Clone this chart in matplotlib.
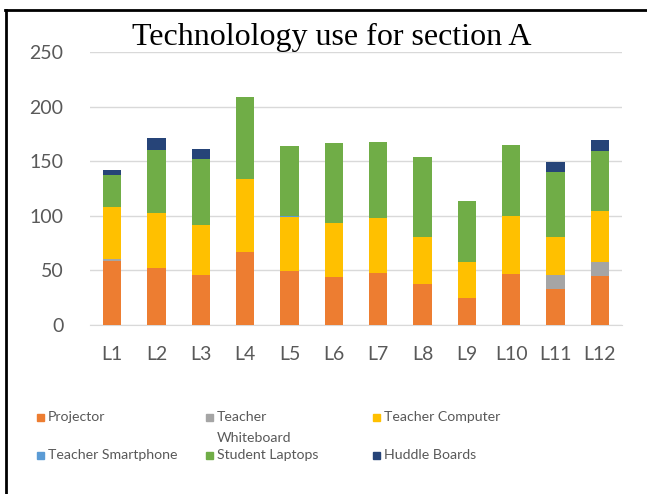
import numpy as np
import matplotlib
matplotlib.use("Agg")
import matplotlib.pyplot as plt
from matplotlib.patches import Rectangle
from matplotlib.lines import Line2D

labs = ["L1", "L2", "L3", "L4", "L5", "L6", "L7", "L8", "L9", "L10", "L11", "L12"]
projector = [59, 52, 46, 67, 49, 44, 48, 38, 25, 47, 33, 45]
whiteboard = [1, 0, 0, 0, 0, 0, 0, 0, 0, 0, 13, 13]
teacher_pc = [48, 51, 46, 67, 50, 49, 50, 43, 33, 53, 35, 46]
smartphone = [0, 0, 0, 0, 1, 0, 0, 0, 0, 0, 0, 0]
laptops = [29, 57, 60, 75, 64, 74, 70, 73, 56, 65, 59, 55]
huddle = [5, 11, 9, 0, 0, 0, 0, 0, 0, 0, 9, 10]

names = ["Projector", "Teacher\nWhiteboard", "Teacher Computer",
         "Teacher Smartphone", "Student Laptops", "Huddle Boards"]
colors = ["#ED7D31", "#A5A5A5", "#FFC000", "#5B9BD5", "#70AD47", "#264478"]
series = [projector, whiteboard, teacher_pc, smartphone, laptops, huddle]

W, H = 647, 494
fig = plt.figure(figsize=(W / 100, H / 100), dpi=100)
ax = fig.add_axes([90 / W, (H - 325) / H, 532 / W, 273 / H])

x = np.arange(len(labs))
bottom = np.zeros(len(labs))
for vals, c in zip(series, colors):
    ax.bar(x, vals, 0.41, bottom=bottom, color=c, zorder=3)
    bottom += np.array(vals)

ax.set_xlim(-0.5, len(labs) - 0.5)
ax.set_ylim(0, 250)
ax.set_yticks(range(0, 251, 50))
ax.set_xticks(x)
ax.set_xticklabels(labs)
ax.grid(axis="y", color="#D9D9D9", linewidth=1, zorder=0)
for s in ["top", "right", "left"]:
    ax.spines[s].set_visible(False)
ax.spines["bottom"].set_color("#D9D9D9")
ax.tick_params(length=0, labelsize=14, labelcolor="#595959")
ax.tick_params(axis="y", pad=19)
ax.tick_params(axis="x", pad=15)
for t in ax.get_xticklabels() + ax.get_yticklabels():
    t.set_fontfamily("Lato")

fig.text(332 / W, (H - 45) / H, "Technolology use for section A",
         family="Liberation Serif", fontsize=23, ha="center", va="baseline")

# legend drawn by hand so rows line up like the original
col_x = [37, 206, 373]
row_y = [417, 455]
for i, (nm, c) in enumerate(zip(names, colors)):
    cx = col_x[i % 3]
    cy = row_y[i // 3]
    fig.add_artist(Rectangle((cx / W, (H - cy - 3.5) / H), 7 / W, 7 / H,
                             transform=fig.transFigure, color=c))
    fig.text((cx + 11) / W, (H - cy) / H, nm.split("\n")[0], family="Lato",
             fontsize=10.2, color="#595959", va="center")
    if "\n" in nm:
        fig.text((cx + 11) / W, (H - cy - 21) / H, nm.split("\n")[1],
                 family="Lato", fontsize=10.2, color="#595959", va="center")

# frame edges visible in the screenshot
fig.add_artist(Line2D([5 / W, 1], [(H - 10) / H] * 2, color="black", lw=2,
                      transform=fig.transFigure))
fig.add_artist(Line2D([6 / W] * 2, [0, (H - 10) / H], color="black", lw=2,
                      transform=fig.transFigure))

fig.savefig("out.png", dpi=100)
